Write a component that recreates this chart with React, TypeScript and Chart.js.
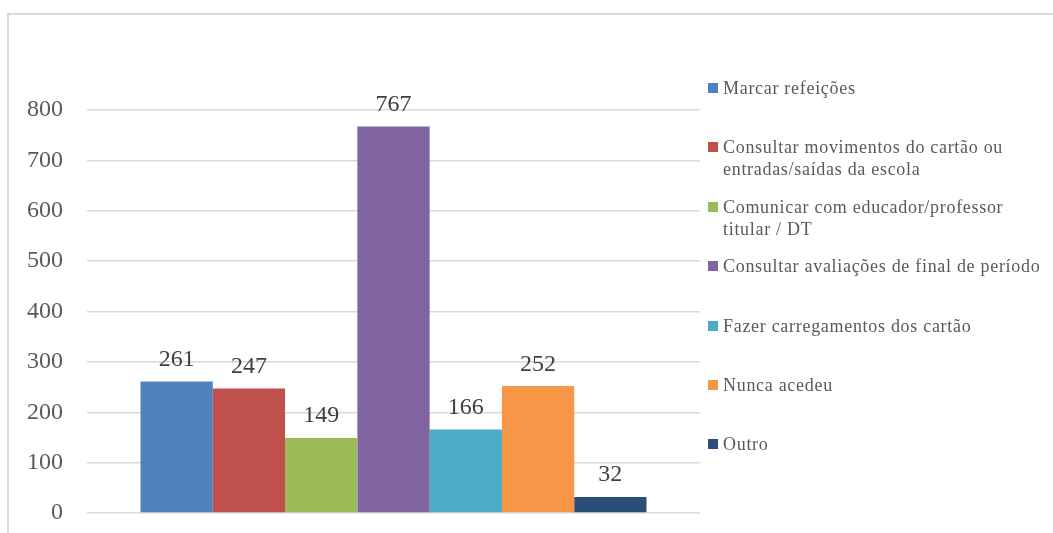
import React, { useEffect, useRef } from "react";
import { Chart, registerables } from "chart.js";

Chart.register(...registerables);

const seriesLabelLines = [
  ["Marcar refeições"],
  ["Consultar movimentos do cartão ou", "entradas/saídas da escola"],
  ["Comunicar com educador/professor", "titular / DT"],
  ["Consultar avaliações de final de período"],
  ["Fazer carregamentos dos cartão"],
  ["Nunca acedeu"],
  ["Outro"],
];
const seriesNames = seriesLabelLines.map((l) => l.join(" "));
const seriesValues = [261, 247, 149, 767, 166, 252, 32];
const seriesColors = ["#4F81BD", "#C0504D", "#9BBB59", "#8064A2", "#4BACC6", "#F79646", "#2C4D75"];
const categories = [""];
const yTicks = [0, 100, 200, 300, 400, 500, 600, 700, 800];

const FONT = "'Liberation Serif', 'Times New Roman', serif";

const valueLabels = {
  id: "valueLabels",
  afterDatasetsDraw(chart: any) {
    const ctx = chart.ctx;
    ctx.save();
    ctx.font = `24px ${FONT}`;
    ctx.fillStyle = "#404040";
    ctx.textAlign = "center";
    ctx.textBaseline = "alphabetic";
    chart.data.datasets.forEach((ds: any, i: number) => {
      const meta = chart.getDatasetMeta(i);
      meta.data.forEach((bar: any, j: number) => {
        ctx.fillText(String(ds.data[j]), bar.x, bar.y - 15.5);
      });
    });
    ctx.restore();
  },
};

export default function App() {
  const ref = useRef<HTMLCanvasElement | null>(null);

  useEffect(() => {
    if (!ref.current) return;
    const chart = new Chart(ref.current, {
      type: "bar",
      data: {
        labels: categories,
        datasets: seriesNames.map((name, i) => ({
          label: name,
          data: [seriesValues[i]],
          backgroundColor: seriesColors[i],
          borderWidth: 0,
          barPercentage: 1,
          categoryPercentage: 506 / 613,
        })),
      },
      options: {
        animation: false,
        responsive: false,
        maintainAspectRatio: false,
        layout: { padding: { left: 0, right: 353, top: 110, bottom: 20 } },
        plugins: { legend: { display: false }, tooltip: { enabled: false }, title: { display: false } },
        scales: {
          x: { display: false, grid: { display: false } },
          y: {
            min: 0,
            max: 800,
            afterFit: (s: any) => {
              s.width = 87;
            },
            afterBuildTicks: (s: any) => {
              s.ticks = yTicks.map((v) => ({ value: v }));
            },
            border: { display: false },
            grid: {
              color: "#d9d9d9",
              lineWidth: 1.5,
              drawTicks: true,
              tickLength: 24,
              tickColor: "rgba(0,0,0,0)",
            },
            ticks: {
              padding: 0,
              color: "#595959",
              font: { family: FONT, size: 24 },
            },
          },
        },
      },
      plugins: [valueLabels],
    });
    return () => chart.destroy();
  }, []);

  return (
    <div>
      <div
        style={{
          position: "fixed",
          left: 7,
          top: 13,
          width: 1200,
          height: 800,
          border: "2px solid #d9d9d9",
          boxSizing: "border-box",
        }}
      />
      <canvas
        ref={ref}
        width={1053}
        height={533}
        style={{ position: "fixed", left: 0, top: 0, width: 1053, height: 533 }}
      />
      {seriesLabelLines.map((lines, i) => (
        <div
          key={i}
          style={{
            position: "fixed",
            left: 723,
            top: 88 - 11 + i * 59.4,
            whiteSpace: "nowrap",
            fontFamily: FONT,
            fontSize: 18,
            letterSpacing: "0.7px",
            lineHeight: "22px",
            color: "#595959",
          }}
        >
          <span
            style={{
              position: "absolute",
              left: -15,
              top: 6,
              width: 10,
              height: 10,
              background: seriesColors[i],
            }}
          />
          {lines.map((t, k) => (
            <div key={k}>{t}</div>
          ))}
        </div>
      ))}
    </div>
  );
}
